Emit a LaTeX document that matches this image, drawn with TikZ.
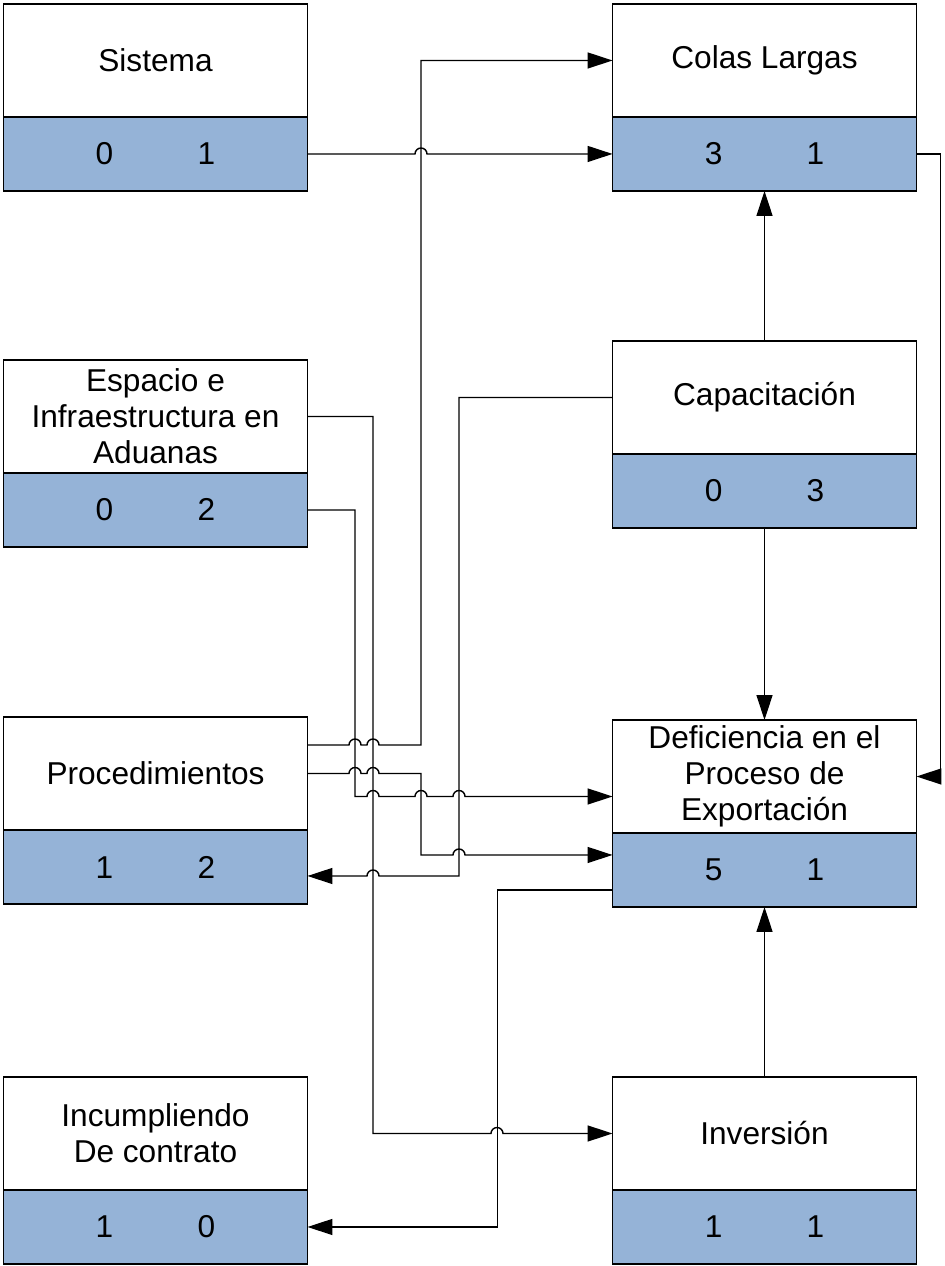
\documentclass[tikz,border=0pt]{standalone}
\usepackage{fontspec}
\setmainfont{Liberation Sans}
\usetikzlibrary{arrows.meta}

\definecolor{azul}{RGB}{149,179,215}
\newcommand{\valores}[2]{#1\hspace{48pt}#2}

\tikzset{
    titulo/.style={draw, fill=white, line width=0.8pt, minimum width=6.08cm, minimum height=2.26cm,
        anchor=north, align=center, inner sep=0pt, outer sep=0pt, font=\fontsize{18}{20.5}\selectfont},
    cuenta/.style={draw, fill=azul, line width=0.8pt, minimum width=6.08cm, minimum height=1.48cm,
        anchor=north, inner sep=0pt, outer sep=0pt, font=\fontsize{18}{20.5}\selectfont},
    flecha/.style={line width=0.8pt, -{Triangle[length=0.5cm, width=0.32cm]}},
    salto/.style={start angle=180, end angle=0, radius=0.12cm},
    saltoizq/.style={start angle=0, end angle=180, radius=0.12cm}
}

\begin{document}
\begin{tikzpicture}[x=0.02cm, y=-0.02cm]
    \useasboundingbox (0,0) rectangle (945,1266);

    % left column
    \node[titulo] (sis) at (155.5,4) {Sistema};
    \node[cuenta] (sisN) at (sis.south) {\valores{0}{1}};

    \node[titulo] (esp) at (155.5,360) {Espacio e\\Infraestructura en\\Aduanas};
    \node[cuenta] (espN) at (esp.south) {\valores{0}{2}};

    \node[titulo] (pro) at (155.5,717) {Procedimientos};
    \node[cuenta] (proN) at (pro.south) {\valores{1}{2}};

    \node[titulo] (inc) at (155.5,1077) {Incumpliendo\\De contrato};
    \node[cuenta] (incN) at (inc.south) {\valores{1}{0}};

    % right column
    \node[titulo] (col) at (764.5,4) {Colas Largas};
    \node[cuenta] (colN) at (col.south) {\valores{3}{1}};

    \node[titulo] (cap) at (764.5,341) {Capacitación};
    \node[cuenta] (capN) at (cap.south) {\valores{0}{3}};

    \node[titulo] (def) at (764.5,720) {Deficiencia en el\\Proceso de\\Exportación};
    \node[cuenta] (defN) at (def.south) {\valores{5}{1}};

    \node[titulo] (inv) at (764.5,1077) {Inversión};
    \node[cuenta] (invN) at (inv.south) {\valores{1}{1}};

    % vertical links in the right column
    \draw[flecha] (cap.north) -- (colN.south);
    \draw[flecha] (capN.south) -- (def.north);
    \draw[flecha] (inv.north) -- (defN.south);

    % Sistema -> Colas Largas
    \draw[flecha] (sisN.east) -- (415,154) arc[salto] -- (colN.west);

    % Colas Largas -> Deficiencia (right side)
    \draw[flecha] (colN.east) -- ++(24,0) |- (def.east);

    % Procedimientos -> Colas Largas
    \draw[flecha] ([yshift=0.57cm]pro.east) -- (349,745) arc[salto] -- (367,745) arc[salto]
        -- (421,745) |- (col.west);

    % Procedimientos -> Deficiencia
    \draw[flecha] (pro.east) -- (349,773.5) arc[salto] -- (367,773.5) arc[salto]
        -- (421,773.5) -- (421,855) -- (453,855) arc[salto] -- ([yshift=0.3cm]defN.west);

    % Espacio (cuenta) -> Deficiencia
    \draw[flecha] (espN.east) -| (355,796.5) -- (367,796.5) arc[salto] -- (415,796.5) arc[salto]
        -- (453,796.5) arc[salto] -- ([yshift=-0.4cm]def.west);

    % Espacio -> Inversion
    \draw[flecha] (esp.east) -| (373,1133.5) -- (491,1133.5) arc[salto] -- (inv.west);

    % Capacitacion -> Procedimientos
    \draw[flecha] (cap.west) -| (459,876) -- (379,876) arc[saltoizq] -- ([yshift=-0.18cm]proN.east);

    % Deficiencia -> Incumpliendo
    \draw[flecha] ([yshift=-0.4cm]defN.west) -- ++(-115,0) |- (incN.east);
\end{tikzpicture}
\end{document}
